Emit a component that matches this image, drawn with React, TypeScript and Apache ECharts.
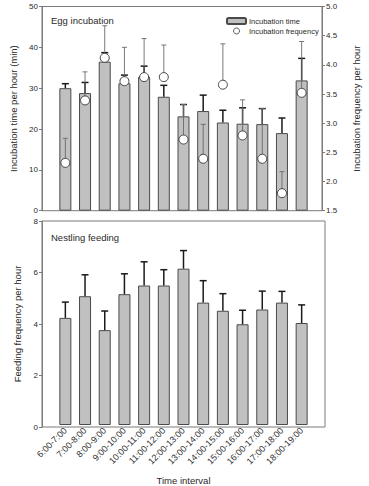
import React, { useEffect, useRef } from "react";
import * as echarts from "echarts";

const categories = [
  "6:00-7:00", "7:00-8:00", "8:00-9:00", "9:00-10:00", "10:00-11:00", "11:00-12:00",
  "12:00-13:00", "13:00-14:00", "14:00-15:00", "15:00-16:00", "16:00-17:00", "17:00-18:00", "18:00-19:00",
];
const incubationTime = [30.0, 28.8, 36.5, 31.2, 32.8, 27.9, 23.1, 24.4, 21.6, 21.3, 21.2, 19.0, 31.9];
const incubationTimeErr = [1.1, 2.6, 2.2, 2.0, 2.6, 2.8, 2.9, 3.9, 3.0, 3.9, 3.8, 3.7, 5.4];
const incubationFreq = [2.32, 3.39, 4.12, 3.72, 3.79, 3.79, 2.72, 2.39, 3.66, 2.79, 2.39, 1.8, 3.52];
const incubationFreqErr = [0.42, 0.49, 0.55, 0.58, 0.66, 0.55, 0.6, 0.59, 0.7, 0.61, 0.86, 0.37, 0.88];
const feeding = [4.2, 5.05, 3.72, 5.13, 5.47, 5.47, 6.13, 4.8, 4.48, 3.95, 4.53, 4.8, 4.0];
const feedingErr = [0.62, 0.84, 0.75, 0.8, 0.93, 0.62, 0.71, 0.86, 0.67, 0.55, 0.72, 0.44, 0.71];

const leftTicks = [0, 10, 20, 30, 40, 50];
const rightTicks = [1.5, 2.0, 2.5, 3.0, 3.5, 4.0, 4.5, 5.0];
const feedTicks = [0, 2, 4, 6, 8];

const FONT = "'Liberation Sans', Arial, sans-serif";
const TEXT = "#2a2a2a";
const AXIS = "#7a7a7a";

function errRender(color: string, lw: number, cap: number) {
  return (params: any, api: any) => {
    const x = api.value(0);
    const y = api.value(1);
    const e = api.value(2);
    const p0 = api.coord([x, y]);
    const p1 = api.coord([x, y + e]);
    return {
      type: "group",
      children: [
        { type: "line", shape: { x1: p0[0], y1: p0[1], x2: p1[0], y2: p1[1] }, style: { stroke: color, lineWidth: lw } },
        { type: "line", shape: { x1: p1[0] - cap, y1: p1[1], x2: p1[0] + cap, y2: p1[1] }, style: { stroke: color, lineWidth: lw } },
      ],
    };
  };
}

export default function App() {
  const ref = useRef<HTMLDivElement>(null);
  useEffect(() => {
    document.body.style.margin = "0";
    const chart = echarts.init(ref.current!, null, { renderer: "svg" });
    const frameY = (ticks: number[], pos: string, name: string, gap: number, grid: number) => ({
      type: "value",
      gridIndex: grid,
      position: pos,
      min: ticks[0],
      max: ticks[ticks.length - 1],
      interval: ticks[1] - ticks[0],
      name,
      nameLocation: "middle",
      nameGap: gap,
      nameTextStyle: { fontSize: 9.5, color: TEXT, fontFamily: FONT },
      axisLine: { show: true, lineStyle: { color: AXIS, width: 1 } },
      axisTick: { show: true, length: 3, lineStyle: { color: AXIS } },
      axisLabel: {
        fontSize: 8,
        color: TEXT,
        fontFamily: FONT,
        margin: 4,
        formatter: (v: number) => (pos === "right" ? v.toFixed(1) : String(v)),
      },
      splitLine: { show: false },
    });
    const hiddenY = (ticks: number[], grid: number) => ({
      type: "value",
      gridIndex: grid,
      min: ticks[0],
      max: ticks[ticks.length - 1],
      show: false,
    });
    const idx = categories.map((_, i) => i);
    chart.setOption({
      animation: false,
      textStyle: { fontFamily: FONT },
      title: [
        { text: "Egg incubation", left: 46, top: 10, textStyle: { fontSize: 9.5, fontWeight: "normal", color: TEXT, fontFamily: FONT } },
        { text: "Nestling feeding", left: 46, top: 227, textStyle: { fontSize: 9.5, fontWeight: "normal", color: TEXT, fontFamily: FONT } },
      ],
      legend: {
        left: 221,
        top: 12,
        orient: "vertical",
        itemWidth: 19,
        itemHeight: 6,
        itemGap: 2,
        textStyle: { fontSize: 7.5, color: TEXT, fontFamily: FONT, padding: [0, 0, 0, -2] },
        data: [
          { name: "Incubation time" },
          { name: "Incubation frequency", itemStyle: { borderWidth: 0.8, borderColor: "#333333", color: "#ffffff" } },
        ],
      },
      grid: [
        { left: 42, top: 6.5, width: 282.5, height: 204.2, show: true, borderColor: AXIS, borderWidth: 1, backgroundColor: "transparent" },
        { left: 55.5, top: 6.5, width: 256, height: 204.2 },
        { left: 42, top: 221, width: 283, height: 206, show: true, borderColor: AXIS, borderWidth: 1, backgroundColor: "transparent" },
        { left: 55.5, top: 221, width: 256, height: 206 },
      ],
      xAxis: [
        { type: "value", gridIndex: 0, min: 0, max: 1, show: false },
        { type: "category", gridIndex: 1, data: categories, show: false },
        { type: "value", gridIndex: 2, min: 0, max: 1, show: false },
        {
          type: "category",
          gridIndex: 3,
          data: categories,
          axisLine: { show: false },
          axisTick: { show: false },
          axisLabel: { rotate: 45, fontSize: 9, color: "#333333", fontFamily: FONT, margin: 4, interval: 0 },
          name: "Time interval",
          nameLocation: "middle",
          nameGap: 50,
          nameTextStyle: { fontSize: 9.5, color: TEXT, fontFamily: FONT },
        },
      ],
      yAxis: [
        frameY(leftTicks, "left", "Incubation time per hour (min)", 21, 0),
        frameY(rightTicks, "right", "Incubation frequency per hour", 29, 0),
        hiddenY(leftTicks, 1),
        hiddenY(rightTicks, 1),
        frameY(feedTicks, "left", "Feeding frequency per hour", 17, 2),
        hiddenY(feedTicks, 3),
      ],
      series: [
        {
          name: "Incubation time",
          type: "bar",
          xAxisIndex: 1,
          yAxisIndex: 2,
          barWidth: 12,
          data: incubationTime,
          itemStyle: { color: "#c0c0c0", borderColor: "#4a4a4a", borderWidth: 1 },
        },
        {
          type: "custom",
          xAxisIndex: 1,
          yAxisIndex: 2,
          renderItem: errRender("#1a1a1a", 1.5, 3.5),
          data: idx.map((i) => [i, incubationTime[i], incubationTimeErr[i]]),
          z: 3,
        },
        {
          type: "custom",
          xAxisIndex: 1,
          yAxisIndex: 3,
          renderItem: errRender("#6a6a6a", 0.9, 2.5),
          data: idx.map((i) => [i, incubationFreq[i], incubationFreqErr[i]]),
          z: 4,
        },
        {
          name: "Incubation frequency",
          type: "scatter",
          xAxisIndex: 1,
          yAxisIndex: 3,
          symbol: "circle",
          symbolSize: 9,
          data: idx.map((i) => [i, incubationFreq[i]]),
          itemStyle: { color: "#ffffff", borderColor: "#333333", borderWidth: 0.9, opacity: 1 },
          z: 5,
        },
        {
          type: "bar",
          xAxisIndex: 3,
          yAxisIndex: 5,
          barWidth: 12,
          data: feeding,
          itemStyle: { color: "#c0c0c0", borderColor: "#4a4a4a", borderWidth: 1 },
        },
        {
          type: "custom",
          xAxisIndex: 3,
          yAxisIndex: 5,
          renderItem: errRender("#1a1a1a", 1.5, 3.5),
          data: idx.map((i) => [i, feeding[i], feedingErr[i]]),
          z: 3,
        },
      ],
    });
    return () => chart.dispose();
  }, []);
  return <div ref={ref} style={{ width: 369, height: 486 }} />;
}
